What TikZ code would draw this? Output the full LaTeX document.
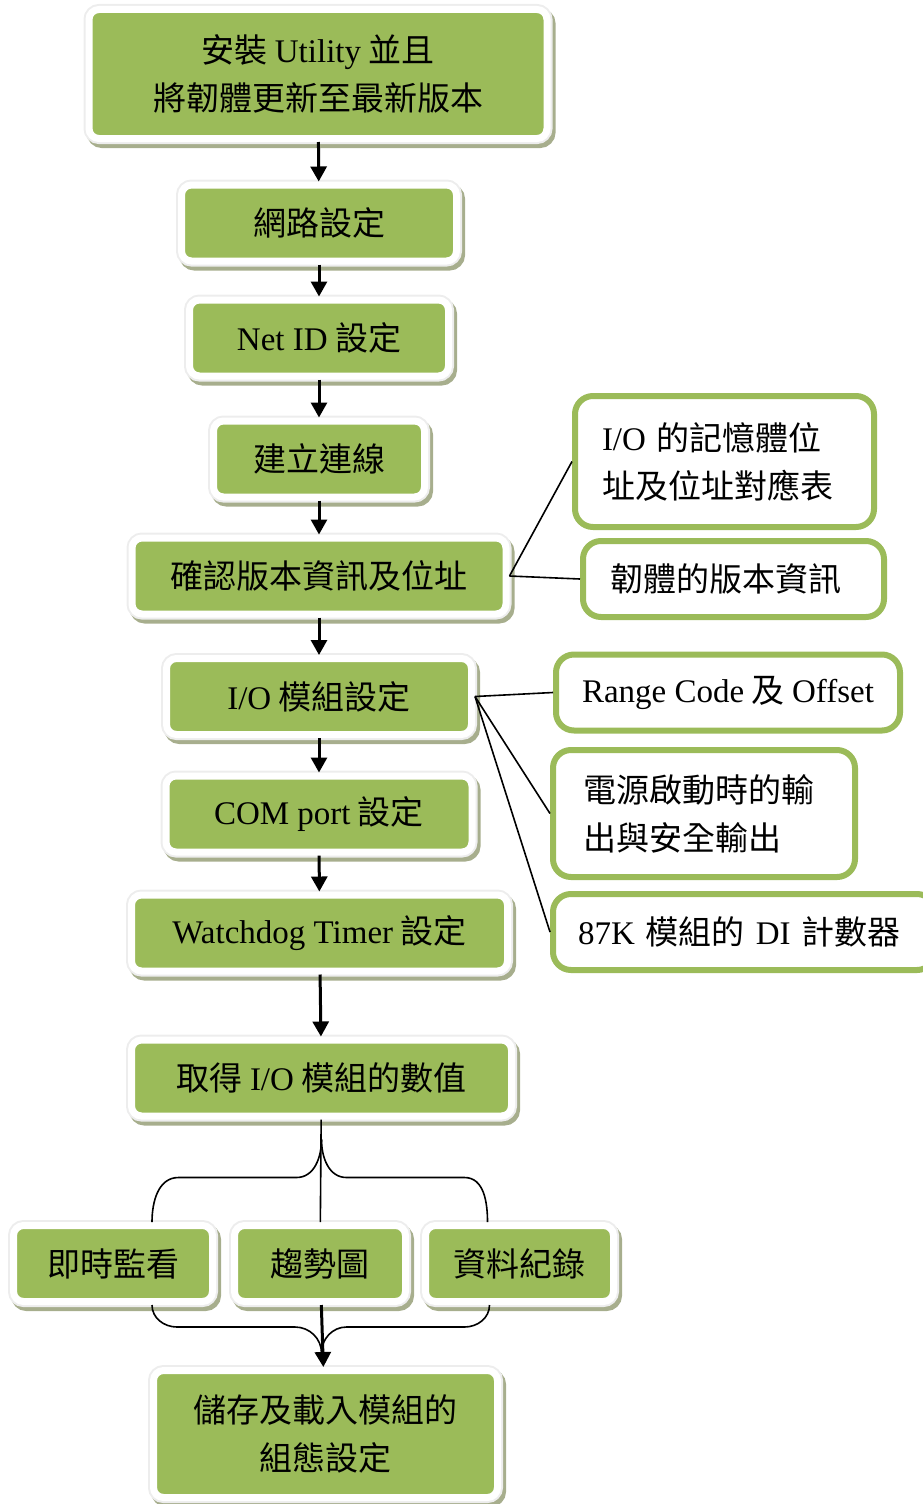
\documentclass[tikz,border=0pt]{standalone}
\usepackage{fontspec}
\setmainfont{Liberation Serif}
\newfontfamily\cjk{Noto Sans CJK TC}
\usepackage{xcolor}
\usepackage{tikz}
\usetikzlibrary{arrows.meta, calc}

\definecolor{boxgreen}{HTML}{9BBB59}
\definecolor{ringgray}{HTML}{EDEDED}
\definecolor{shadowgreen}{HTML}{A7AE8D}

\newcommand{\boxfont}{\cjk\fontsize{33pt}{48pt}\selectfont}
\newcommand{\en}[1]{{\rmfamily #1}}

\begin{document}
\begin{tikzpicture}[x=1pt, y=-1pt,
  stepbox/.style={
    rectangle, rounded corners=10pt, fill=boxgreen, draw=white, line width=7pt,
    preaction={draw=shadowgreen, fill=shadowgreen, line width=11pt,
               transform canvas={shift={(3pt,-4pt)}}},
    preaction={draw=ringgray, line width=11pt},
    inner sep=0pt, minimum height=76pt, align=center, font=\boxfont
  },
  notebox/.style={
    rectangle, rounded corners=18pt, fill=white, draw=boxgreen, line width=6pt,
    inner ysep=0pt, minimum height=76pt, align=left, font=\boxfont
  },
  arrow/.style={-{Triangle[length=15pt, width=16pt]}, line width=3pt},
  link/.style={line width=1.6pt}
]
\useasboundingbox (0,0) rectangle (923,1504);

% --- main steps ---
\node[stepbox, minimum width=458pt, minimum height=129pt] (setup) at (318,74)
  {安裝 \en{Utility} 並且\\將韌體更新至最新版本};
\node[stepbox, minimum width=275pt] (net)   at (319,223)   {網路設定};
\node[stepbox, minimum width=259pt] (netid) at (319,338)   {\en{Net ID} 設定};
\node[stepbox, minimum width=211pt] (conn)  at (319,459)   {建立連線};
\node[stepbox, minimum width=374pt] (check) at (319,576)   {確認版本資訊及位址};
\node[stepbox, minimum width=305pt] (io)    at (319,696.5) {\en{I/O} 模組設定};
\node[stepbox, minimum width=306pt] (com)   at (319,814)   {\en{COM port} 設定};
\node[stepbox, minimum width=376pt] (wdt)   at (319.5,933) {\en{Watchdog Timer} 設定};
\node[stepbox, minimum width=380pt] (get)   at (321.5,1078){取得 \en{I/O} 模組的數值};

% --- outputs ---
\node[stepbox, minimum width=199pt] (live)  at (113,1263.5)   {即時監看};
\node[stepbox, minimum width=171pt] (trend) at (320,1263.5)   {趨勢圖};
\node[stepbox, minimum width=188pt] (log)   at (519.5,1263.5) {資料紀錄};
\node[stepbox, minimum width=344pt, minimum height=127pt] (save) at (325.5,1434)
  {儲存及載入模組的\\組態設定};

% --- notes ---
\node[notebox, text width=245pt, inner xsep=27pt, minimum height=131pt] (mem) at (724.5,461.5)
  {\en{I/O} 的記憶體位\\址及位址對應表};
\node[notebox, text width=247pt, inner xsep=27pt] (fw)    at (733.5,579)   {韌體的版本資訊};
\node[notebox, minimum width=344pt]               (range) at (728,692.5)   {\en{Range Code} 及 \en{Offset}};
\node[notebox, text width=242pt, inner xsep=30pt, minimum height=127pt] (power) at (704,813.5)
  {電源啟動時的輸\\出與安全輸出};
\node[notebox, text width=332pt, inner xsep=25pt] (di)    at (744,932)     {\en{87K} 模組的 \en{DI} 計數器};

% Arrows
\draw[arrow] (setup) -- (net);
\draw[arrow] (net)   -- (netid);
\draw[arrow] (netid) -- (conn);
\draw[arrow] (conn)  -- (check);
\draw[arrow] (check) -- (io);
\draw[arrow] (io)    -- (com);
\draw[arrow] (com)   -- (wdt);
\draw[arrow] (wdt)   -- (get);

% Note links
\draw[link] (check.east) -- (mem.west);
\draw[link] (check.east) -- (fw.west);
\draw[link] (io.east) -- (range.west);
\draw[link] (io.east) -- (power.west);
\draw[link] (io.east) -- (di.west);

% Braces
\coordinate (split) at ($(get.south)+(0,20)$);
\coordinate (merge) at ($(save.north)+(-4,-14)$);
\draw[link] (get) -- (trend);
\draw[link] (split) to[out=-90,in=0] ++(-25,38) -- ++(-118,0)
  to[out=180,in=90] ($(live.north)+(39,0)$);
\draw[link] (split) to[out=-90,in=180] ++(25,38) -- ++(118,0)
  to[out=0,in=90] ($(log.north)+(-32,0)$);
\draw[link] ($(live.south)+(39,0)$) to[out=-90,in=180] ++(25,22) -- ++(118,0)
  to[out=0,in=90] (merge);
\draw[link] ($(log.south)+(-30,0)$) to[out=-90,in=0] ++(-25,22) -- ++(-118,0)
  to[out=180,in=90] (merge);
\draw[arrow] (trend) -- (save);

\end{tikzpicture}
\end{document}
